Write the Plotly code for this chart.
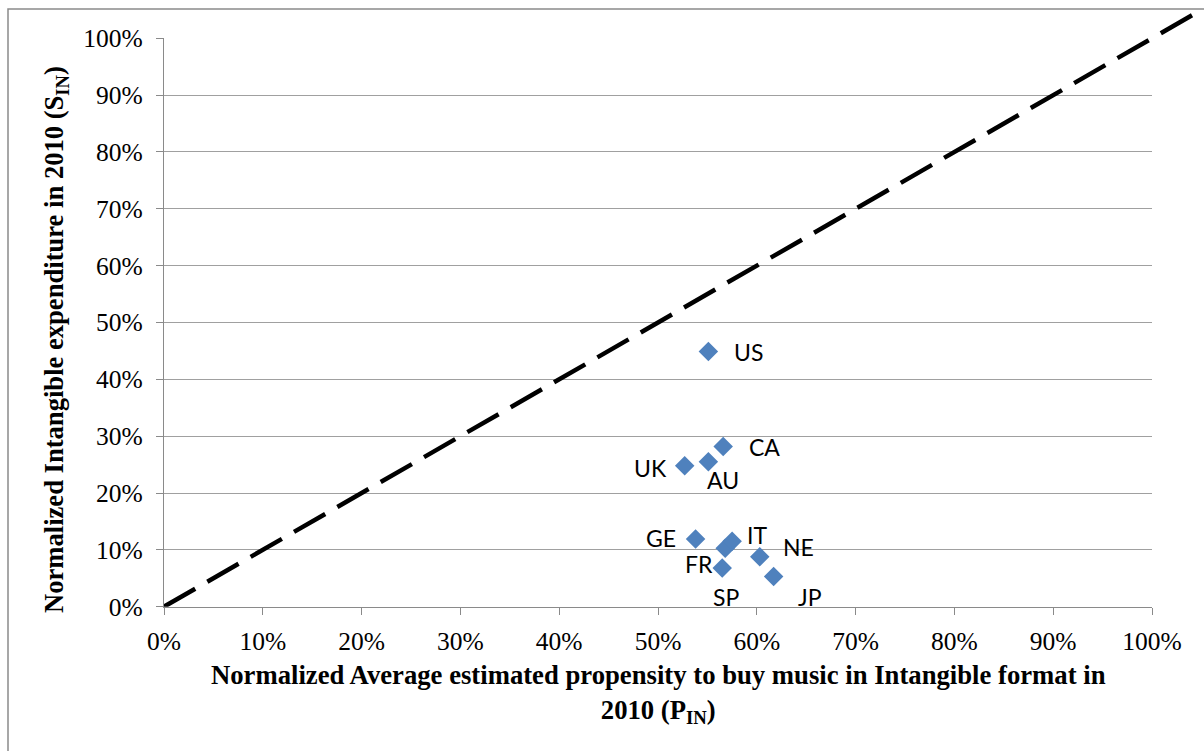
import plotly.graph_objects as go

# ---- data ----
countries = ["US", "CA", "UK", "AU", "GE", "FR", "IT", "NE", "SP", "JP"]
p_in = [0.551, 0.566, 0.527, 0.551, 0.538, 0.568, 0.575, 0.603, 0.565, 0.617]
s_in = [0.449, 0.282, 0.248, 0.255, 0.119, 0.103, 0.115, 0.088, 0.068, 0.053]
diag_x = [0.0, 1.06]
diag_y = [0.0, 1.06]
tick_vals = [i / 10 for i in range(11)]
tick_text = [f"{i*10}%" for i in range(11)]

# label offsets (pixels) for the data labels
label_offsets = {
    "US": (40, -1), "CA": (41, -1), "UK": (-34, -2), "AU": (15, -18),
    "GE": (-35, 1), "IT": (25, 6), "NE": (39, 10), "FR": (-26, -16),
    "SP": (4, -29), "JP": (36, -20),
}

W, H = 1204, 751
L, R, T, B = 164, 1152, 38.3, 606.7
gray = "#8a8a8a"
serif = "Liberation Serif"

fig = go.Figure()

# diagonal on an overlay subplot whose area extends to chart border
fig.add_trace(go.Scatter(
    x=diag_x, y=diag_y, mode="lines",
    line=dict(color="black", width=4.5, dash="36px,14px"),
    xaxis="x2", yaxis="y2", showlegend=False, hoverinfo="skip",
))

fig.add_trace(go.Scatter(
    x=p_in, y=s_in, mode="markers",
    marker=dict(symbol="diamond", size=15, color="#4F81BD", line=dict(width=0)),
    xaxis="x", yaxis="y", showlegend=False, hoverinfo="skip",
))

xs = (R - L)
ys = (B - T)
y2_top_px = 9.5

axis_common = dict(
    tickvals=tick_vals, ticktext=tick_text, range=[0, 1],
    showline=True, linecolor=gray, linewidth=1.3,
    ticks="outside", ticklen=7, tickcolor=gray, tickwidth=1.3,
    tickfont=dict(family=serif, size=25.5, color="black"),
    zeroline=False, fixedrange=True, automargin=False,
)

fig.update_layout(
    width=W, height=H, autosize=False,
    margin=dict(l=0, r=0, t=0, b=0, pad=0, autoexpand=False),
    paper_bgcolor="white", plot_bgcolor="rgba(0,0,0,0)",
    xaxis=dict(domain=[L / W, R / W], anchor="y", showgrid=False,
               ticklabelstandoff=5, **axis_common),
    yaxis=dict(domain=[(H - B) / H, (H - T) / H], anchor="x", showgrid=True,
               gridcolor="#a0a0a0", gridwidth=1.3, ticklabelstandoff=8,
               **axis_common),
    xaxis2=dict(domain=[L / W, 1.0], range=[0, (W - L) / xs], visible=False,
                anchor="y2", fixedrange=True, automargin=False),
    yaxis2=dict(domain=[(H - B) / H, (H - y2_top_px) / H],
                range=[0, (B - y2_top_px) / ys], visible=False, anchor="x2",
                fixedrange=True, automargin=False),
)

# data labels
for c, xv, yv in zip(countries, p_in, s_in):
    dx, dy = label_offsets[c]
    fig.add_annotation(x=xv, y=yv, xref="x", yref="y", text=c, showarrow=False,
                       xshift=dx, yshift=dy,
                       font=dict(family="Lato", size=23, color="black"))

# axis titles
fig.add_annotation(
    x=((L + R) / 2) / W, y=1 - 694 / H, xref="paper", yref="paper",
    text="<b>Normalized Average estimated propensity to buy music in Intangible format in<br>2010 (P<sub>IN</sub>)</b>",
    showarrow=False, xanchor="center", yanchor="middle",
    font=dict(family=serif, size=26.7, color="black"),
)
fig.add_annotation(
    x=56 / W, y=1 - 340 / H, xref="paper", yref="paper",
    text="<b>Normalized Intangible expenditure in 2010 (S<sub>IN</sub>)</b>",
    showarrow=False, textangle=-90, xanchor="center", yanchor="middle",
    font=dict(family=serif, size=26.6, color="black"),
)

# chart border (only left and top visible in frame)
fig.add_shape(type="rect", xref="paper", yref="paper",
              x0=8 / W, x1=1.05, y0=-0.05, y1=1 - 9 / H,
              line=dict(color=gray, width=1.5), fillcolor="rgba(0,0,0,0)")

fig.write_html(
    "out.html",
    config={"displayModeBar": False},
    post_script="document.body.style.margin='0';document.body.style.overflow='hidden';",
)
